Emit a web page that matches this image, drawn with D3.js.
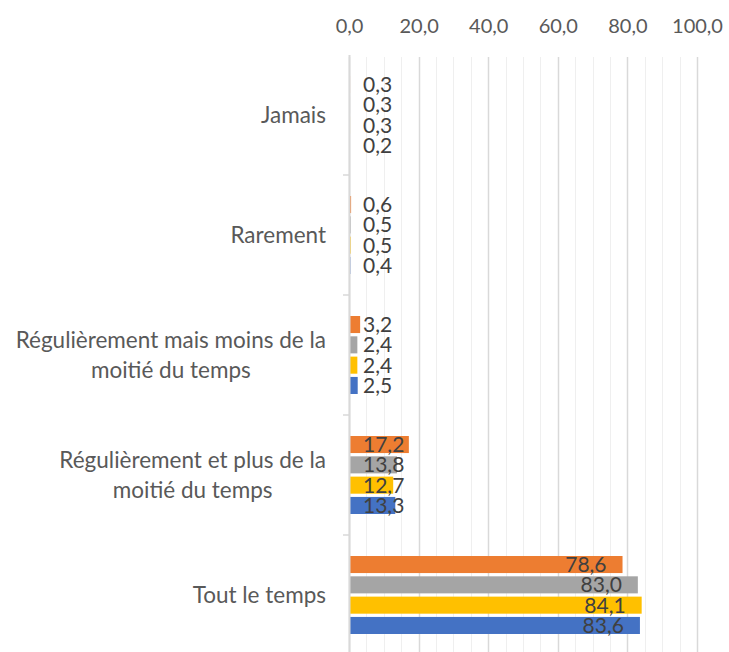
<!DOCTYPE html>
<html>
<head>
<meta charset="utf-8">
<script src="https://cdn.jsdelivr.net/npm/d3@7"></script>
<style>
  body { margin: 0; background: #fff; }
  svg { display: block; font-family: Lato, "Open Sans", sans-serif; }
</style>
</head>
<body>
<svg id="chart" width="729" height="652"></svg>
<script>
var width = 729, height = 652;

// categories, top to bottom, with the line breaks used in the picture
var categories = ["Jamais", "Rarement",
  "Régulièrement mais moins de la moitié du temps",
  "Régulièrement et plus de la moitié du temps",
  "Tout le temps"];
var categoryLines = [["Jamais"], ["Rarement"],
  ["Régulièrement mais moins de la", "moitié du temps"],
  ["Régulièrement et plus de la", "moitié du temps"],
  ["Tout le temps"]];

// series, drawn top to bottom inside each group
var seriesNames = ["s4", "s3", "s2", "s1"];
var seriesColors = ["#ED7D31", "#A5A5A5", "#FFC000", "#4472C4"];
var s4 = [0.3, 0.6, 3.2, 17.2, 78.6];
var s3 = [0.3, 0.5, 2.4, 13.8, 83.0];
var s2 = [0.3, 0.5, 2.4, 12.7, 84.1];
var s1 = [0.2, 0.4, 2.5, 13.3, 83.6];
var seriesValues = [s4, s3, s2, s1];

var tickValues = [0, 20, 40, 60, 80, 100];

function draw()
{
    var svg = d3.select("#chart");
    var locale = d3.formatLocale({decimal: ",", thousands: " ", grouping: [3], currency: ["", " €"]});
    var fmt = locale.format(".1f");

    var x = d3.scaleLinear().domain([0, 100]).range([349, 697]);
    var y0 = d3.scaleBand().domain(categories).range([55, 655])
        .paddingInner(0.35).paddingOuter(0.175);
    var y1 = d3.scaleBand().domain(seriesNames).range([0, y0.bandwidth()])
        .paddingInner(0.16);

    // gridlines, every 5, darker every 20
    svg.append("g").selectAll("line")
      .data(x.ticks(20))
      .enter().append("line")
      .attr("x1", function(d) { return Math.round(x(d)) + 0.5; })
      .attr("x2", function(d) { return Math.round(x(d)) + 0.5; })
      .attr("y1", 57).attr("y2", height)
      .attr("stroke", function(d) { return d % 20 == 0 ? "#d9d9d9" : "#efefef"; })
      .attr("stroke-width", function(d) { return d % 20 == 0 ? 1.5 : 1; });

    // top axis labels
    var axis = d3.axisTop(x).tickValues(tickValues).tickFormat(fmt).tickSize(0).tickPadding(0);
    var ax = svg.append("g").attr("transform", "translate(0,33)").call(axis);
    ax.select(".domain").remove();
    ax.selectAll("text").attr("fill", "#595959").style("font-size", "20px")
      .style("font-family", "Lato, sans-serif");

    // bars
    seriesNames.forEach(function(s, si) {
      var g = svg.append("g");
      g.selectAll("rect")
        .data(seriesValues[si])
        .enter().append("rect")
        .attr("x", x(0))
        .attr("y", function(d, i) { return y0(categories[i]) + y1(s); })
        .attr("width", function(d) { return x(d) - x(0); })
        .attr("height", y1.bandwidth())
        .attr("fill", seriesColors[si]);
    });

    // category axis line + ticks (over the tiny bars)
    svg.append("line").attr("x1", 349.5).attr("x2", 349.5).attr("y1", 55).attr("y2", height)
      .attr("stroke", "#d9d9d9").attr("stroke-width", 2);
    svg.append("g").selectAll("line")
      .data(categories.slice(1))
      .enter().append("line")
      .attr("x1", 343).attr("x2", 349)
      .attr("y1", function(d) { return y0(d) - y0.step() * y0.paddingInner() / 2; })
      .attr("y2", function(d) { return y0(d) - y0.step() * y0.paddingInner() / 2; })
      .attr("stroke", "#d9d9d9").attr("stroke-width", 1.5);

    // data labels
    seriesNames.forEach(function(s, si) {
      svg.append("g").selectAll("text")
        .data(seriesValues[si])
        .enter().append("text")
        .attr("x", function(d) { return d > 50 ? x(d) - 16 : x(0) + 14; })
        .attr("y", function(d, i) { return y0(categories[i]) + y1(s) + y1.bandwidth() / 2; })
        .attr("dy", "0.36em")
        .attr("text-anchor", function(d) { return d > 50 ? "end" : "start"; })
        .attr("fill", "#404040")
        .style("font-size", "21px")
        .text(function(d) { return fmt(d); });
    });

    // category labels
    var lab = svg.append("g");
    categories.forEach(function(c, i) {
      var lines = categoryLines[i];
      var cy = y0(c) + y0.bandwidth() / 2;
      var t = lab.append("text")
        .attr("fill", "#595959")
        .style("font-size", "22.5px");
      lines.forEach(function(l, li) {
        t.append("tspan").attr("x", 0)
          .attr("y", cy + (li - (lines.length - 1) / 2) * 30)
          .attr("dy", "0.36em")
          .attr("text-anchor", "middle")
          .text(l);
      });
      var w = t.node().getBBox().width;
      t.attr("transform", "translate(" + (326 - w / 2) + ",0)");
    });
}

draw();
</script>
</body>
</html>
